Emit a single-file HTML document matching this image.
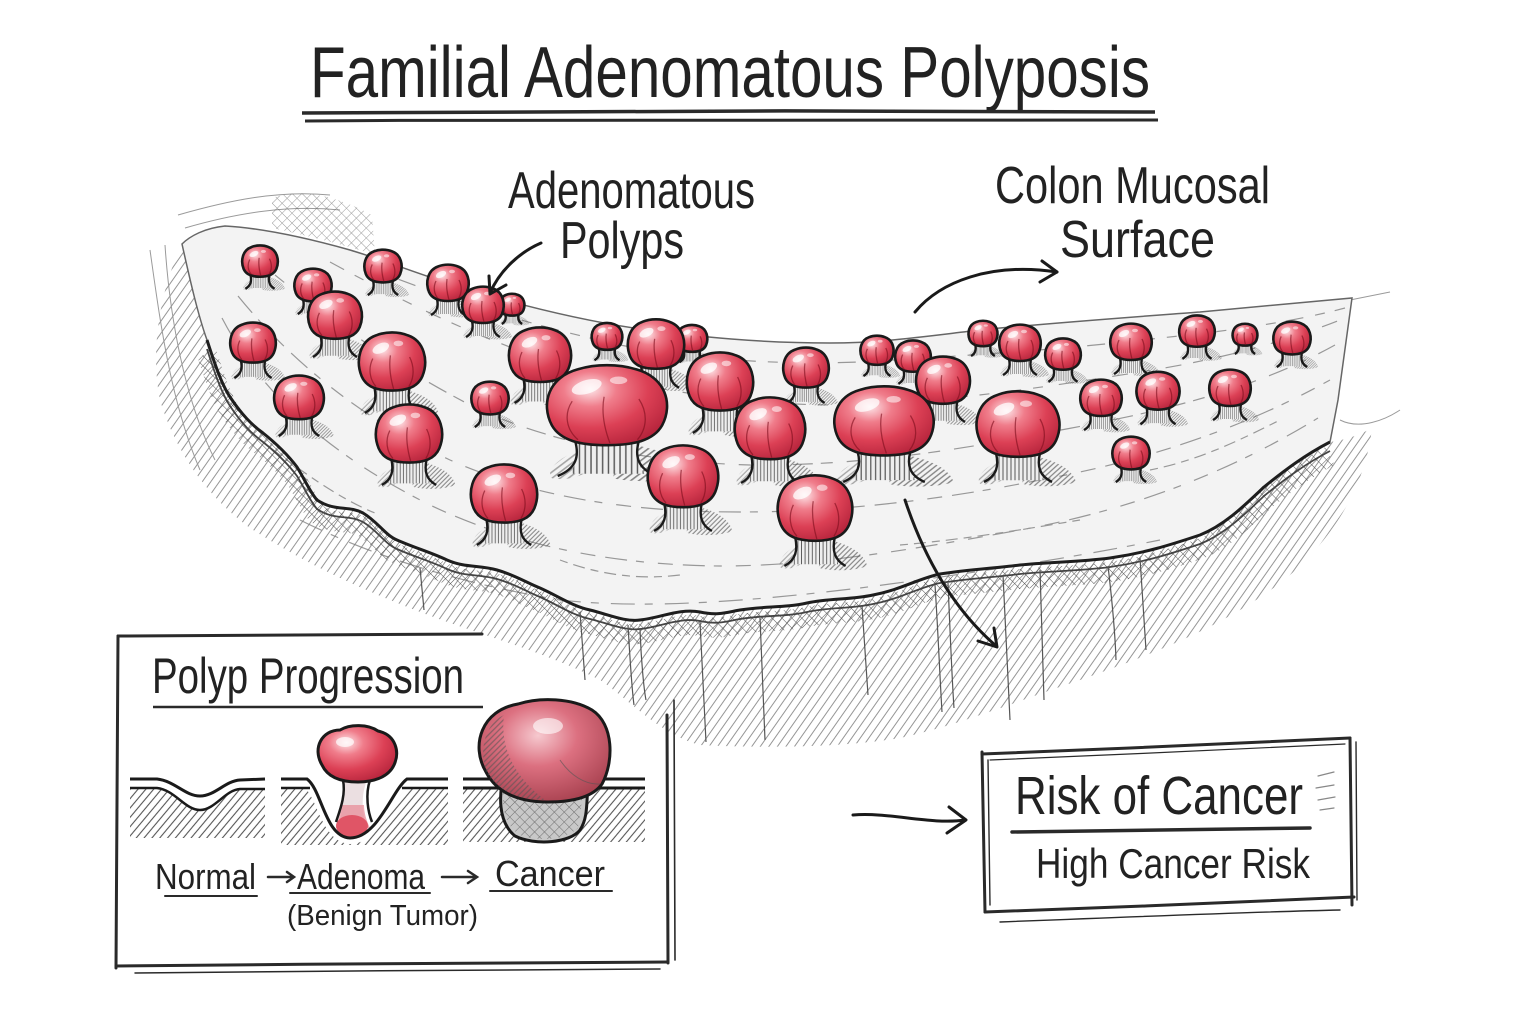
<!DOCTYPE html>
<html><head><meta charset="utf-8"><style>
html,body{margin:0;padding:0;background:#fff;}
svg{display:block;}
text{font-family:"Liberation Sans",sans-serif;fill:#222;}
</style></head><body>
<svg width="1536" height="1024" viewBox="0 0 1536 1024" xmlns="http://www.w3.org/2000/svg">
<defs>
<radialGradient id="rg" cx="0.36" cy="0.3" r="0.78">
<stop offset="0" stop-color="#fde6e9"/>
<stop offset="0.28" stop-color="#f07d8b"/>
<stop offset="0.62" stop-color="#dc4055"/>
<stop offset="1" stop-color="#b3223a"/>
</radialGradient>
<radialGradient id="rgc" cx="0.45" cy="0.35" r="0.75">
<stop offset="0" stop-color="#f6c9cf"/>
<stop offset="0.4" stop-color="#dc7080"/>
<stop offset="1" stop-color="#a03a48"/>
</radialGradient>
<pattern id="hatch" width="7" height="7" patternUnits="userSpaceOnUse" patternTransform="rotate(35)"><line x1="1" y1="0" x2="1" y2="7" stroke="#8a8a8a" stroke-width="0.9"/></pattern>
<pattern id="xh" width="7" height="7" patternUnits="userSpaceOnUse" patternTransform="rotate(45)"><path d="M0,0 V7 M0,0 H7" stroke="#555" stroke-width="1" fill="none"/></pattern>
<pattern id="hd" width="6" height="6" patternUnits="userSpaceOnUse" patternTransform="rotate(40)"><line x1="1" y1="0" x2="1" y2="6" stroke="#555" stroke-width="1.1"/></pattern>
<pattern id="vl" width="4" height="10" patternUnits="userSpaceOnUse"><rect width="4" height="10" fill="#eeeeee"/><line x1="1" y1="0" x2="1" y2="10" stroke="#555" stroke-width="1"/></pattern>
<pattern id="sh" width="4" height="4" patternUnits="userSpaceOnUse" patternTransform="rotate(45)"><line x1="1" y1="0" x2="1" y2="4" stroke="#555" stroke-width="1.3"/></pattern>
<g id="pp">
<path d="M10,30 C34,34 54,44 58,60 C44,66 18,66 4,62 Z" fill="url(#sh)" opacity="0.7"/>
<path d="M-22,38 C-36,46 -42,56 -38,62 C-30,64 -22,62 -16,58 Z" fill="url(#sh)" opacity="0.5"/>
<path d="M-22,26 C-20,40 -21,50 -26,58 L26,58 C21,50 20,40 22,26 Z" fill="url(#vl)"/>
<path d="M-22,28 C-19,42 -21,53 -34,60" fill="none" stroke="#1a1a1a" stroke-width="2.4" vector-effect="non-scaling-stroke"/>
<path d="M22,28 C19,42 21,53 34,60" fill="none" stroke="#1a1a1a" stroke-width="2.4" vector-effect="non-scaling-stroke"/>
<path d="M-38,14 C-46,-6 -40,-30 -20,-37 C-8,-42 8,-42 20,-37 C40,-30 46,-6 38,14 C32,28 18,32 0,32 C-18,32 -32,28 -38,14 Z" fill="url(#rg)" stroke="#1a1a1a" stroke-width="2.6" vector-effect="non-scaling-stroke"/>
<path d="M-24,-8 C-30,4 -28,18 -20,27 M22,-10 C28,2 28,16 21,27 M-2,-12 C-4,2 -2,16 2,30" stroke="#7d0d1c" stroke-width="1.3" fill="none" opacity="0.6" vector-effect="non-scaling-stroke"/>
<ellipse cx="-14" cy="-21" rx="11" ry="6" fill="#fff" opacity="0.75" transform="rotate(-25 -14 -21)"/>
<ellipse cx="8" cy="-27" rx="6" ry="3.5" fill="#fff" opacity="0.55"/>
</g>
</defs>

<rect width="1536" height="1024" fill="#fff"/>

<!-- Title -->
<text x="310" y="97" font-size="72" textLength="840" lengthAdjust="spacingAndGlyphs">Familial Adenomatous Polyposis</text>
<path d="M302,113 C500,111 900,110 1155,112" stroke="#2a2a2a" stroke-width="3.5" fill="none"/>
<path d="M305,121 C600,119 900,118 1158,120" stroke="#2a2a2a" stroke-width="3" fill="none"/>

<!-- Labels -->
<text x="508" y="208" font-size="52" textLength="247" lengthAdjust="spacingAndGlyphs">Adenomatous</text>
<text x="560" y="258" font-size="52" textLength="124" lengthAdjust="spacingAndGlyphs">Polyps</text>
<text x="995" y="203" font-size="52" textLength="275" lengthAdjust="spacingAndGlyphs">Colon Mucosal</text>
<text x="1060" y="257" font-size="52" textLength="155" lengthAdjust="spacingAndGlyphs">Surface</text>

<!-- Underside hatched region -->
<path d="M207,340 C215,365 222,385 230,397 C242,415 252,425 263,433 C278,445 288,455 297,467 C305,480 310,492 317,500 C335,512 348,505 363,513 C378,522 385,535 397,540 C415,548 430,552 447,560 C465,568 480,565 497,570 C515,575 525,582 540,588 C558,596 572,606 590,610 C610,615 625,622 640,620 C660,618 680,608 700,612 C718,616 728,612 740,610 C765,606 785,608 807,603 C830,598 850,600 873,595 C900,590 920,578 940,574 C965,570 995,568 1020,565 C1050,562 1080,562 1110,558 C1145,553 1170,545 1200,535 C1225,525 1245,505 1264,487 C1285,470 1305,455 1330,442 C1345,440 1360,435 1372,428 C1365,490 1330,540 1290,575 C1230,625 1150,655 1080,680 C1020,700 960,725 900,738 C840,748 760,748 700,745 C660,735 630,700 600,680 C540,650 480,635 420,612 C350,585 300,560 250,528 C205,495 175,450 160,400 C150,350 160,290 182,244 C190,280 198,315 207,340 Z" fill="url(#hatch)"/>
<g stroke="#9a9a9a" stroke-width="1" fill="none">
<path d="M150,250 C160,320 170,400 200,470"/>
<path d="M165,245 C170,320 185,400 215,460"/>
<path d="M178,215 C230,200 280,190 330,195"/>
<path d="M185,228 C240,212 290,205 340,210"/>
<path d="M1350,300 L1390,292"/>
<path d="M1340,420 C1360,430 1385,420 1400,410"/>
</g>
<path d="M272,198 C300,188 335,195 372,215 L375,255 C345,245 305,235 272,228 Z" fill="url(#xh)" opacity="0.6"/>

<!-- Top surface -->
<path d="M207,340 C215,365 222,385 230,397 C242,415 252,425 263,433 C278,445 288,455 297,467 C305,480 310,492 317,500 C335,512 348,505 363,513 C378,522 385,535 397,540 C415,548 430,552 447,560 C465,568 480,565 497,570 C515,575 525,582 540,588 C558,596 572,606 590,610 C610,615 625,622 640,620 C660,618 680,608 700,612 C718,616 728,612 740,610 C765,606 785,608 807,603 C830,598 850,600 873,595 C900,590 920,578 940,574 C965,570 995,568 1020,565 C1050,562 1080,562 1110,558 C1145,553 1170,545 1200,535 C1225,525 1245,505 1264,487 C1285,470 1305,455 1330,442 L1338,400 L1352,298 C1300,303 1250,307 1200,312 C1120,318 1050,323 980,330 C920,337 880,343 830,343 C760,343 700,337 640,329 C580,320 520,305 470,290 C420,275 390,262 350,250 C300,236 260,228 225,226 C205,228 190,236 182,244 C190,280 198,315 207,340 Z" fill="#f3f3f3" stroke="#666" stroke-width="1.5"/>

<!-- surface texture -->
<g stroke="#7a7a7a" stroke-width="1.2" fill="none" stroke-dasharray="22 9 8 14 15 10" opacity="0.75">
<path d="M222,318 C262,395 330,455 430,505 C520,548 620,565 720,566 C820,566 920,548 1020,530 C1120,512 1220,478 1318,418"/>
<path d="M238,296 C290,360 360,418 450,460 C540,500 640,512 740,512 C840,512 940,500 1040,480 C1140,462 1240,430 1330,380"/>
<path d="M275,275 C330,320 400,370 480,410 C560,445 650,462 750,465 C850,466 950,452 1050,432 C1150,414 1250,392 1335,345" stroke-dasharray="12 14 20 8"/>
<path d="M330,262 C400,300 470,335 560,365 C650,390 740,405 840,405 C940,403 1040,388 1140,372 C1220,360 1290,340 1340,320" stroke-dasharray="16 12 10 16"/>
<path d="M380,272 C450,300 530,325 620,345 C700,360 780,365 860,362 C960,356 1060,350 1160,338 C1240,330 1300,320 1345,308" stroke-dasharray="10 10 18 12"/>
<path d="M300,520 C380,560 470,585 560,600 C650,610 760,600 860,588 C960,575 1060,560 1160,540" stroke-dasharray="24 10 8 12"/>
<path d="M260,440 C300,470 340,500 380,515" stroke-dasharray="8 6 12 6"/>
<path d="M560,560 C600,575 640,580 680,575" stroke-dasharray="8 6 12 6"/>
<path d="M900,545 C960,540 1020,530 1080,520" stroke-dasharray="8 6 12 6"/>
<path d="M1150,470 C1200,460 1240,440 1280,420" stroke-dasharray="8 6 12 6"/>
</g>

<!-- front edge (rim) -->
<g fill="none">
<path transform="translate(0,14)" d="M207,340 C215,365 222,385 230,397 C242,415 252,425 263,433 C278,445 288,455 297,467 C305,480 310,492 317,500 C335,512 348,505 363,513 C378,522 385,535 397,540 C415,548 430,552 447,560 C465,568 480,565 497,570 C515,575 525,582 540,588 C558,596 572,606 590,610 C610,615 625,622 640,620 C660,618 680,608 700,612 C718,616 728,612 740,610 C765,606 785,608 807,603 C830,598 850,600 873,595 C900,590 920,578 940,574 C965,570 995,568 1020,565 C1050,562 1080,562 1110,558 C1145,553 1170,545 1200,535 C1225,525 1245,505 1264,487 C1285,470 1305,455 1330,442" stroke="url(#xh)" stroke-width="20"/>
<path transform="translate(0,9)" d="M207,340 C215,365 222,385 230,397 C242,415 252,425 263,433 C278,445 288,455 297,467 C305,480 310,492 317,500 C335,512 348,505 363,513 C378,522 385,535 397,540 C415,548 430,552 447,560 C465,568 480,565 497,570 C515,575 525,582 540,588 C558,596 572,606 590,610 C610,615 625,622 640,620 C660,618 680,608 700,612 C718,616 728,612 740,610 C765,606 785,608 807,603 C830,598 850,600 873,595 C900,590 920,578 940,574 C965,570 995,568 1020,565 C1050,562 1080,562 1110,558 C1145,553 1170,545 1200,535 C1225,525 1245,505 1264,487 C1285,470 1305,455 1330,442" stroke="#444" stroke-width="1.8"/>
<path d="M207,340 C215,365 222,385 230,397 C242,415 252,425 263,433 C278,445 288,455 297,467 C305,480 310,492 317,500 C335,512 348,505 363,513 C378,522 385,535 397,540 C415,548 430,552 447,560 C465,568 480,565 497,570 C515,575 525,582 540,588 C558,596 572,606 590,610 C610,615 625,622 640,620 C660,618 680,608 700,612 C718,616 728,612 740,610 C765,606 785,608 807,603 C830,598 850,600 873,595 C900,590 920,578 940,574 C965,570 995,568 1020,565 C1050,562 1080,562 1110,558 C1145,553 1170,545 1200,535 C1225,525 1245,505 1264,487 C1285,470 1305,455 1330,442" stroke="#1e1e1e" stroke-width="3"/>
</g>
<g stroke="#555" stroke-width="1.2" fill="none">
<path d="M628,625 C630,660 632,690 634,705"/>
<path d="M640,628 C641,660 644,690 646,700"/>
<path d="M700,622 L706,742"/>
<path d="M760,618 L765,740"/>
<path d="M862,606 L868,695"/>
<path d="M935,585 C938,630 940,680 942,712"/>
<path d="M948,583 C950,630 952,680 954,708"/>
<path d="M1003,575 L1010,720"/>
<path d="M1108,566 C1112,600 1115,630 1116,660"/>
<path d="M1140,558 L1146,650"/>
<path d="M1040,570 L1044,700"/>
<path d="M580,612 L585,680"/>
<path d="M420,568 L424,610"/>
</g>

<!-- Polyps -->
<use href="#pp" transform="translate(260,263) scale(.43)"/>
<use href="#pp" transform="translate(383,268) scale(.45)"/>
<use href="#pp" transform="translate(448,285) scale(.5)"/>
<use href="#pp" transform="translate(313,287) scale(.45)"/>
<use href="#pp" transform="translate(512,306) scale(.3)"/>
<use href="#pp" transform="translate(483,307) scale(.5)"/>
<use href="#pp" transform="translate(335,318) scale(.65)"/>
<use href="#pp" transform="translate(1197,333) scale(.43)"/>
<use href="#pp" transform="translate(983,335) scale(.35)"/>
<use href="#pp" transform="translate(1245,336) scale(.3)"/>
<use href="#pp" transform="translate(607,338) scale(.37)"/>
<use href="#pp" transform="translate(692,340) scale(.37)"/>
<use href="#pp" transform="translate(1292,340) scale(.45)"/>
<use href="#pp" transform="translate(1131,344) scale(.5)"/>
<use href="#pp" transform="translate(253,345) scale(.55)"/>
<use href="#pp" transform="translate(1020,345) scale(.5)"/>
<use href="#pp" transform="translate(656,347) scale(.68)"/>
<use href="#pp" transform="translate(877,352) scale(.4)"/>
<use href="#pp" transform="translate(1063,356) scale(.43)"/>
<use href="#pp" transform="translate(540,358) scale(.75)"/>
<use href="#pp" transform="translate(913,358) scale(.43)"/>
<use href="#pp" transform="translate(392,365) scale(.8)"/>
<use href="#pp" transform="translate(806,370) scale(.55)"/>
<use href="#pp" transform="translate(943,383) scale(.65)"/>
<use href="#pp" transform="translate(720,385) scale(.8)"/>
<use href="#pp" transform="translate(1230,390) scale(.5)"/>
<use href="#pp" transform="translate(1158,393) scale(.52)"/>
<use href="#pp" transform="translate(299,400) scale(.6)"/>
<use href="#pp" transform="translate(490,400) scale(.45)"/>
<use href="#pp" transform="translate(1101,400) scale(.5)"/>
<use href="#pp" transform="translate(607,410) scale(1.45,1.1)"/>
<use href="#pp" transform="translate(884,425) scale(1.2,0.95)"/>
<use href="#pp" transform="translate(1018,428) scale(1.0,0.9)"/>
<use href="#pp" transform="translate(770,432) scale(.85)"/>
<use href="#pp" transform="translate(409,437) scale(.8)"/>
<use href="#pp" transform="translate(1131,455) scale(.45)"/>
<use href="#pp" transform="translate(683,480) scale(.85)"/>
<use href="#pp" transform="translate(504,497) scale(.8)"/>
<use href="#pp" transform="translate(815,512) scale(.9)"/>

<!-- Arrows -->
<g stroke="#1a1a1a" stroke-width="3" fill="none" stroke-linecap="round" stroke-linejoin="round">
<path d="M541,243 C520,252 500,270 490,293"/>
<path d="M489,276 L490,294 L506,285"/>
<path d="M915,312 C940,282 990,262 1057,272"/>
<path d="M1042,261 L1057,272 L1040,282"/>
<path d="M905,500 C925,560 955,610 995,645"/>
<path d="M978,641 L997,647 L994,628"/>
<path d="M853,815 C890,812 930,825 965,820"/>
<path d="M949,807 L966,820 L947,833"/>
</g>

<!-- Polyp Progression box -->
<g stroke="#2a2a2a" fill="none" stroke-linecap="round">
<path d="M118,636 L482,634" stroke-width="3"/>
<path d="M118,636 L116,968" stroke-width="3"/>
<path d="M116,966 C300,964 500,963 668,962" stroke-width="3"/>
<path d="M135,973 C300,971 500,970 660,969" stroke-width="1.5"/>
<path d="M667,715 L668,963" stroke-width="3"/>
<path d="M674,700 L675,960" stroke-width="1.6"/>
</g>
<text x="152" y="693" font-size="50" textLength="312" lengthAdjust="spacingAndGlyphs">Polyp Progression</text>
<path d="M153,707 L483,707" stroke="#2a2a2a" stroke-width="2.5"/>

<!-- Normal diagram -->
<path d="M130,788 L157,788 C175,790 185,810 200,810 C215,810 225,790 240,789 L265,789 L265,838 L130,838 Z" fill="url(#hd)"/>
<path d="M130,779 L157,779 C175,781 185,796 200,796 C215,796 225,781 240,780 L265,779" stroke="#1a1a1a" stroke-width="3" fill="none"/>
<path d="M130,788 L157,788 C175,790 185,810 200,810 C215,810 225,790 240,789 L265,789" stroke="#1a1a1a" stroke-width="2.5" fill="none"/>

<!-- Adenoma diagram -->
<path d="M281,788 L305,788 C318,800 322,842 350,844 C380,844 390,800 408,788 L448,788 L448,845 L281,845 Z" fill="url(#hd)"/>
<path d="M343,778 C345,795 342,815 338,828 L368,828 C362,815 360,795 368,778 Z" fill="#ebdfe1"/>
<path d="M342,805 C340,815 338,822 336,828 L370,828 C366,820 364,812 364,805 Z" fill="#e88894" opacity="0.7"/>
<ellipse cx="352" cy="826" rx="16" ry="11" fill="#e05566"/>
<path d="M343,780 C346,795 340,810 336,822 M370,780 C365,795 368,812 372,822" stroke="#1a1a1a" stroke-width="2.5" fill="none"/>
<path d="M281,779 L307,779 C322,790 325,837 350,838 C378,838 392,790 407,779 L448,779" stroke="#1a1a1a" stroke-width="3" fill="none"/>
<path d="M281,788 L310,788 M402,788 L448,788" stroke="#1a1a1a" stroke-width="2.5" fill="none"/>
<path d="M322,765 C312,748 322,730 340,730 C350,724 368,724 378,731 C396,735 400,752 394,765 C388,778 372,782 358,782 C342,782 328,778 322,765 Z" fill="url(#rg)" stroke="#1a1a1a" stroke-width="3"/>
<ellipse cx="345" cy="742" rx="9" ry="5" fill="#fff" opacity="0.7"/>

<!-- Cancer diagram -->
<path d="M463,788 L645,788 L645,842 L463,842 Z" fill="url(#hd)"/>
<path d="M463,779 L505,779 M585,779 L645,779 M463,788 L505,788 M585,788 L645,788" stroke="#1a1a1a" stroke-width="3" fill="none"/>
<path d="M505,770 C498,795 498,822 515,836 C535,846 570,843 580,830 C590,815 585,795 590,770 Z" fill="#c8c8c8" stroke="#1a1a1a" stroke-width="3"/>
<path d="M505,775 C500,800 503,825 520,835 C540,842 565,840 578,828 L585,780 Z" fill="url(#xh)" opacity="0.8"/>
<path d="M486,772 C470,745 482,710 518,704 C540,697 572,698 592,710 C614,724 614,762 602,784 C592,798 570,802 548,802 C522,802 498,795 486,772 Z" fill="url(#rgc)" stroke="#1a1a1a" stroke-width="3"/>
<path d="M486,772 C478,745 488,722 504,715 C500,745 512,775 545,800 C520,800 498,792 486,772 Z" fill="url(#sh)" opacity="0.6"/>
<path d="M560,760 C570,775 585,785 600,784" fill="none" stroke="#555" stroke-width="1" opacity="0.6"/>
<ellipse cx="548" cy="726" rx="15" ry="8" fill="#fff" opacity="0.6"/>

<!-- labels -->
<text x="155" y="889" font-size="36" textLength="101" lengthAdjust="spacingAndGlyphs">Normal</text>
<text x="297" y="889" font-size="36" textLength="128" lengthAdjust="spacingAndGlyphs">Adenoma</text>
<text x="495" y="886" font-size="36" textLength="110" lengthAdjust="spacingAndGlyphs">Cancer</text>
<text x="287" y="925" font-size="29" textLength="191" lengthAdjust="spacingAndGlyphs">(Benign Tumor)</text>
<g stroke="#2a2a2a" fill="none" stroke-linecap="round">
<path d="M165,896 L257,896" stroke-width="2"/>
<path d="M290,893 L430,893" stroke-width="2"/>
<path d="M490,891 L612,891" stroke-width="2"/>
<path d="M268,877 L293,877 M287,872 L294,877 L287,882" stroke-width="2.5"/>
<path d="M442,877 L476,877 M468,871 L477,877 L468,883" stroke-width="2.5"/>
</g>

<!-- Risk of Cancer box -->
<g stroke="#2a2a2a" fill="none" stroke-linecap="round">
<path d="M982,754 C1100,750 1250,742 1350,738" stroke-width="3"/>
<path d="M990,760 C1100,756 1250,748 1345,744" stroke-width="1.2"/>
<path d="M982,752 L985,912" stroke-width="3"/>
<path d="M988,760 L990,905" stroke-width="1.4"/>
<path d="M1350,738 L1352,905" stroke-width="3"/>
<path d="M1356,742 L1357,900" stroke-width="1.4"/>
<path d="M985,912 C1100,908 1250,902 1354,897" stroke-width="3"/>
<path d="M1000,922 C1100,918 1250,912 1340,910" stroke-width="1.4"/>
<path d="M1012,832 L1310,828" stroke-width="3.5"/>
<path d="M1318,776 L1334,772 M1316,788 L1334,785 M1318,800 L1335,797 M1320,810 L1334,808" stroke-width="1.2" stroke="#888"/>
</g>
<text x="1015" y="814" font-size="54" textLength="288" lengthAdjust="spacingAndGlyphs">Risk of Cancer</text>
<text x="1036" y="878" font-size="42" textLength="274" lengthAdjust="spacingAndGlyphs">High Cancer Risk</text>
</svg>
</body></html>
